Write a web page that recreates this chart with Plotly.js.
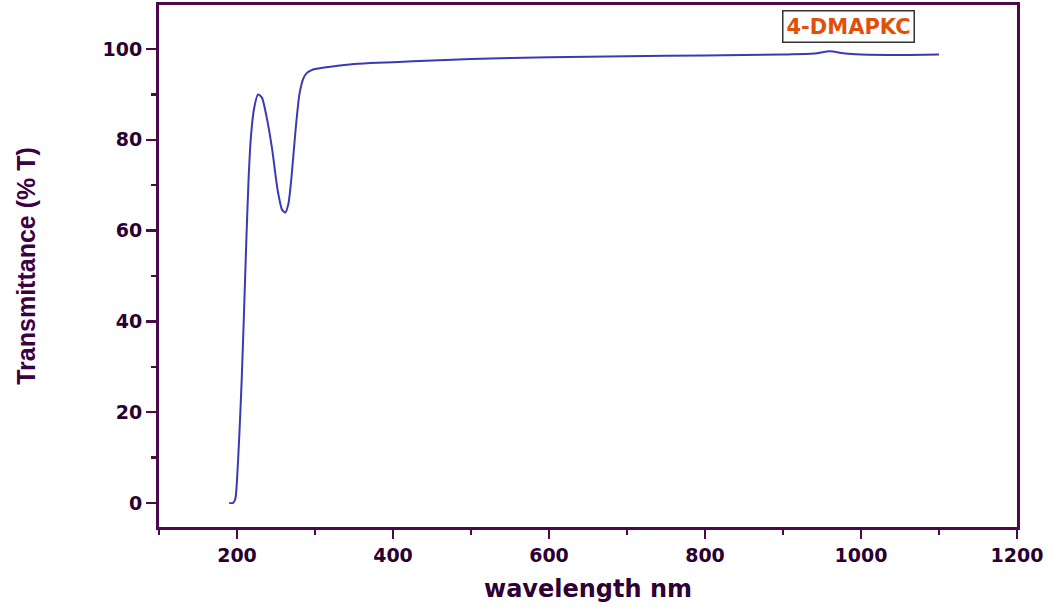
<!DOCTYPE html>
<html>
<head>
<meta charset="utf-8">
<script src="https://cdn.plot.ly/plotly-3.0.1.min.js"></script>
<style>
  html, body { margin: 0; padding: 0; background: #fff; }
  #chart { width: 1062px; height: 613px; }
</style>
</head>
<body>
<div id="chart"></div>
<script>
// Wavelength (nm) and transmittance (%T)
const wavelength = [190, 195, 198, 200, 203, 206, 209, 212, 215, 218, 222, 227, 232, 238, 245, 252, 258, 262, 266, 270, 275, 280, 285, 290, 295, 300, 320, 350, 380, 400, 450, 500, 600, 700, 800, 900, 940, 960, 980, 1000, 1050, 1100];
const transmittance = [0, 0, 1, 5, 15, 27, 42, 58, 72, 81, 87, 90, 89.3, 85, 78, 69, 64.5, 64, 66, 72, 82, 90, 93.5, 94.8, 95.3, 95.6, 96.1, 96.7, 97, 97.1, 97.5, 97.8, 98.2, 98.4, 98.6, 98.8, 99.0, 99.5, 99.0, 98.8, 98.7, 98.8];
const seriesName = "4-DMAPKC";
const xTitle = "wavelength nm";
const yTitle = "Transmittance (% T)";

const axisColor = "#4a0a4c";
const labelColor = "#2a0030";
const tickFont = { family: "DejaVu Sans", size: 19, color: labelColor, weight: "bold" };

const trace = {
  x: wavelength,
  y: transmittance,
  type: "scatter",
  mode: "lines",
  name: seriesName,
  line: { color: "#3a3ab4", width: 2, shape: "spline", smoothing: 0.6 },
  showlegend: false
};

const layout = {
  width: 1062,
  height: 613,
  margin: { l: 159, r: 45, t: 5, b: 86 },
  paper_bgcolor: "#ffffff",
  plot_bgcolor: "#ffffff",
  xaxis: {
    range: [100, 1200],
    dtick: 200,
    tick0: 0,
    ticks: "outside",
    ticklen: 9,
    tickwidth: 2.5,
    tickcolor: axisColor,
    showline: true,
    linecolor: axisColor,
    linewidth: 3,
    mirror: true,
    showgrid: false,
    zeroline: false,
    tickfont: tickFont,
    minor: { dtick: 100, ticks: "outside", ticklen: 5, tickwidth: 2.5, tickcolor: axisColor, showgrid: false },
    title: { text: xTitle, font: { family: "DejaVu Sans", size: 24, color: "#2e0034", weight: "bold" }, standoff: 16 }
  },
  yaxis: {
    range: [-5.3, 109.7],
    dtick: 20,
    tick0: 0,
    ticks: "outside",
    ticklen: 10,
    tickwidth: 2.5,
    tickcolor: axisColor,
    showline: true,
    linecolor: axisColor,
    linewidth: 3,
    mirror: true,
    showgrid: false,
    zeroline: false,
    tickfont: tickFont,
    minor: { dtick: 10, ticks: "outside", ticklen: 5, tickwidth: 2.5, tickcolor: axisColor, showgrid: false },
    title: { text: yTitle, font: { family: "Liberation Sans", size: 25, color: "#3e0044", weight: "bold" }, standoff: 60 }
  },
  annotations: [{
    xref: "paper", yref: "paper",
    x: 0.804, y: 0.99,
    xanchor: "center", yanchor: "top",
    text: seriesName,
    showarrow: false,
    font: { family: "DejaVu Sans", size: 21, color: "#e0500a", weight: "bold" },
    bordercolor: "#333333",
    borderwidth: 1.5,
    borderpad: 3,
    bgcolor: "#ffffff"
  }]
};

Plotly.newPlot("chart", [trace], layout, { displayModeBar: false, staticPlot: true });
</script>
</body>
</html>
